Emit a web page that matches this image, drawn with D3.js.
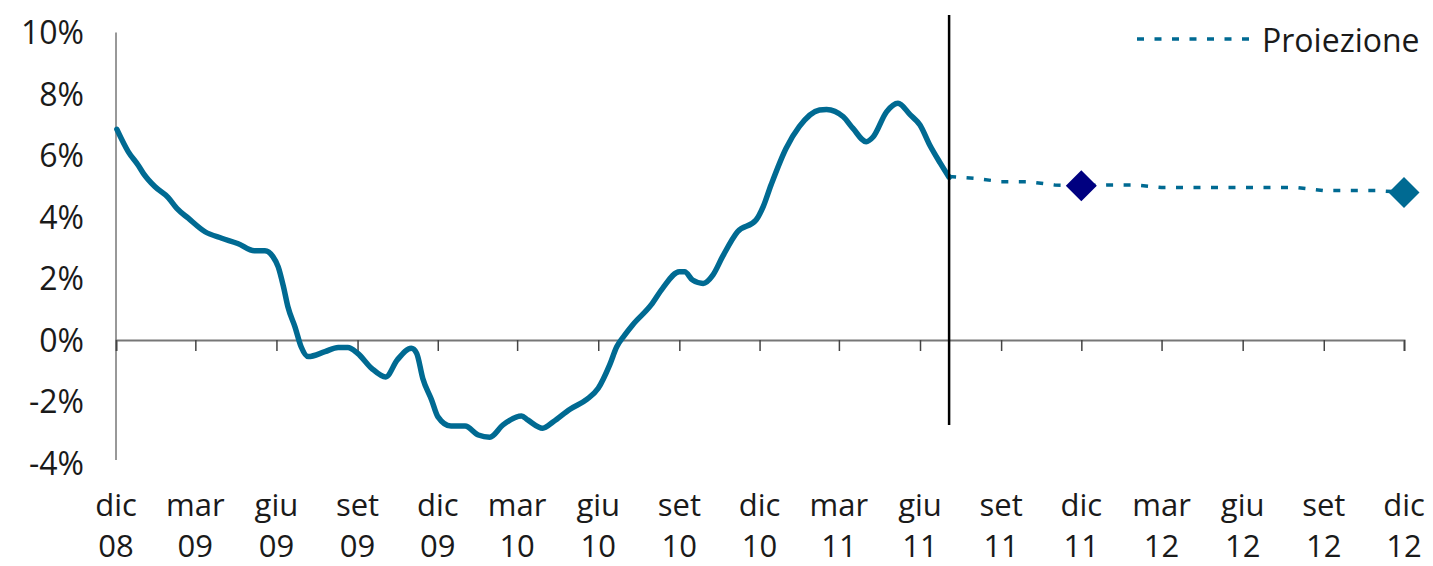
<!DOCTYPE html>
<html>
<head>
<meta charset="utf-8">
<script src="https://cdn.jsdelivr.net/npm/d3@7"></script>
<style>
  body { margin: 0; background: #fff; }
  text { font-family: "Open Sans", sans-serif; fill: #1a1a1a; font-weight: 400; }
</style>
</head>
<body>
<svg id="mainSVG" width="1433" height="566"></svg>
<script>
// historic series (dates + % values)
const histDates = ["2008-12-02","2008-12-15","2008-12-26","2009-01-01","2009-01-14","2009-01-29","2009-02-08","2009-02-21",
  "2009-03-12","2009-03-31","2009-04-18","2009-05-07","2009-05-19","2009-05-28","2009-06-03","2009-06-09","2009-06-14",
  "2009-06-22","2009-06-29","2009-07-07","2009-07-26","2009-08-10","2009-08-21","2009-09-01","2009-09-17","2009-10-03",
  "2009-10-16","2009-11-01","2009-11-07","2009-11-14","2009-11-24","2009-12-01","2009-12-16","2010-01-01","2010-01-16",
  "2010-01-29","2010-02-13","2010-03-06","2010-03-13","2010-03-30","2010-04-11","2010-04-30","2010-05-19","2010-06-01",
  "2010-06-14","2010-06-22","2010-07-01","2010-07-10","2010-07-31","2010-08-13","2010-09-01","2010-09-07","2010-09-16",
  "2010-09-28","2010-10-09","2010-10-20","2010-11-06","2010-11-27","2010-12-05","2010-12-14","2010-12-31","2011-01-15",
  "2011-02-07","2011-02-15","2011-03-06","2011-03-17","2011-04-01","2011-04-09","2011-04-24","2011-05-07","2011-05-21",
  "2011-06-01","2011-06-12","2011-06-24","2011-07-04"];
const histValues = [6.85,6.12,5.69,5.42,4.99,4.64,4.28,3.96,
  3.52,3.31,3.14,2.90,2.90,2.71,2.38,1.73,1.08,
  0.43,-0.22,-0.54,-0.38,-0.24,-0.24,-0.43,-0.92,-1.20,
  -0.65,-0.27,-0.43,-1.25,-1.95,-2.49,-2.80,-2.80,-3.09,
  -3.16,-2.76,-2.47,-2.60,-2.87,-2.66,-2.25,-1.93,-1.57,
  -0.81,-0.22,0.16,0.49,1.14,1.68,2.22,2.22,1.95,
  1.84,2.11,2.71,3.52,3.90,4.33,5.04,6.23,6.94,
  7.48,7.50,7.26,6.88,6.45,6.61,7.42,7.70,7.32,
  6.99,6.34,5.75,5.29];

// projection, monthly
const projDates = ["2011-07-04","2011-08-01","2011-09-01","2011-10-01","2011-11-01","2011-12-01","2012-01-01","2012-02-01",
  "2012-03-01","2012-04-01","2012-05-01","2012-06-01","2012-07-01","2012-08-01","2012-09-01","2012-10-01","2012-11-01","2012-12-01"];
const projValues = [5.32,5.26,5.15,5.15,5.04,5.02,5.04,5.04,4.96,4.96,4.96,4.96,4.96,4.96,4.86,4.86,4.86,4.80];

const markerDates = ["2011-12-01","2012-12-01"];
const markerValues = [5.02, 4.80];
const markerColors = ["#000080","#006a92"];

const cutoffDate = "2011-07-04";
const tickDates = ["2008-12-01","2009-03-01","2009-06-01","2009-09-01","2009-12-01","2010-03-01","2010-06-01","2010-09-01",
  "2010-12-01","2011-03-01","2011-06-01","2011-09-01","2011-12-01","2012-03-01","2012-06-01","2012-09-01","2012-12-01"];
const monthNames = ["gen","feb","mar","apr","mag","giu","lug","ago","set","ott","nov","dic"];
const yTicks = [-4,-2,0,2,4,6,8,10];

const parse = d3.timeParse("%Y-%m-%d");
const lineColor = "#006a92";

const svg = d3.select("#mainSVG");
const x = d3.scaleTime().domain([parse("2008-12-01"), parse("2012-12-01")]).range([116, 1404]);
const y = d3.scaleLinear().domain([-4, 10]).range([463, 32.5]);

// y axis
svg.append("line")
    .attr("x1", 116).attr("x2", 116)
    .attr("y1", y(10)).attr("y2", 460)
    .attr("stroke", "#333").attr("stroke-width", 1);

svg.selectAll(".ylab").data(yTicks).enter().append("text")
    .attr("class", "ylab")
    .attr("x", 84)
    .attr("y", d => y(d))
    .attr("dy", "0.36em")
    .attr("text-anchor", "end")
    .style("font-size", "32px")
    .text(d => d + "%");

// x axis at 0
const xAxis = d3.axisBottom(x)
    .tickValues(tickDates.map(parse))
    .tickSize(11)
    .tickFormat("");
const gx = svg.append("g").attr("transform", `translate(0,${y(0)})`).call(xAxis);
gx.select(".domain").attr("stroke", "#777").attr("stroke-width", 2);
gx.selectAll(".tick line").attr("stroke", "#444").attr("stroke-width", 1.5);

// x labels, two lines
const xl = svg.selectAll(".xlab").data(tickDates.map(parse)).enter().append("text")
    .attr("class", "xlab")
    .attr("text-anchor", "middle")
    .style("font-size", "31px");
xl.append("tspan").attr("x", d => x(d)).attr("y", 516).text(d => monthNames[d.getMonth()]);
xl.append("tspan").attr("x", d => x(d)).attr("y", 557).text(d => d3.timeFormat("%y")(d));

// projection (dashed)
const line = d3.line()
    .x(d => x(d.date))
    .y(d => y(d.value));

const proj = projDates.map((d, i) => ({date: parse(d), value: projValues[i]}));
svg.append("path")
    .datum(proj)
    .attr("fill", "none")
    .attr("stroke", lineColor)
    .attr("stroke-width", 3.5)
    .attr("stroke-dasharray", "7,10.5")
    .attr("d", line);

// history
const hist = histDates.map((d, i) => ({date: parse(d), value: histValues[i]}));
svg.append("path")
    .datum(hist)
    .attr("fill", "none")
    .attr("stroke", lineColor)
    .attr("stroke-width", 5.5)
    .attr("stroke-linejoin", "round")
    .attr("stroke-linecap", "round")
    .attr("d", line.curve(d3.curveMonotoneX));

// vertical cutoff line
svg.append("line")
    .attr("x1", x(parse(cutoffDate))).attr("x2", x(parse(cutoffDate)))
    .attr("y1", 15).attr("y2", 425)
    .attr("stroke", "#000").attr("stroke-width", 2.5);

// diamonds
svg.selectAll(".marker").data(markerDates).enter().append("path")
    .attr("class", "marker")
    .attr("d", d3.symbol().type(d3.symbolSquare).size(480))
    .attr("transform", (d, i) => `translate(${x(parse(d))},${y(markerValues[i])}) rotate(45)`)
    .attr("fill", (d, i) => markerColors[i]);

// legend
svg.append("line")
    .attr("x1", 1137).attr("x2", 1250)
    .attr("y1", 39).attr("y2", 39)
    .attr("stroke", lineColor)
    .attr("stroke-width", 3.5)
    .attr("stroke-dasharray", "7,10.5");
svg.append("text")
    .attr("x", 1262).attr("y", 52)
    .style("font-size", "32px")
    .text("Proiezione");
</script>
</body>
</html>
